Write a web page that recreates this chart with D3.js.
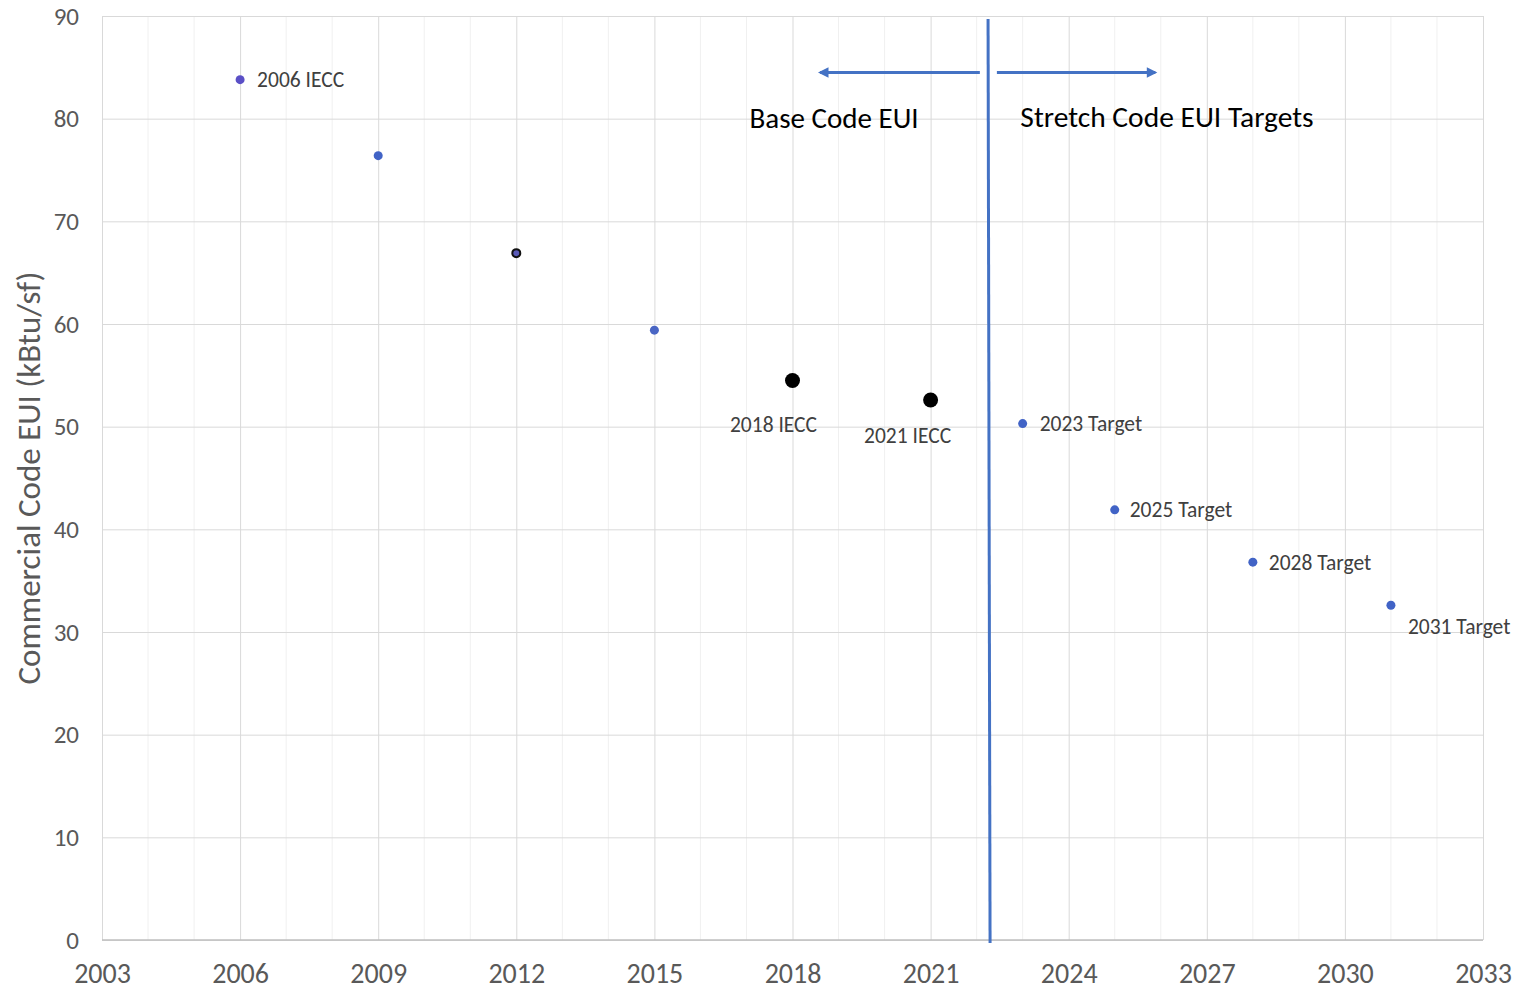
<!DOCTYPE html>
<html>
<head>
<meta charset="utf-8">
<script src="https://cdn.jsdelivr.net/npm/d3@7"></script>
<style>
  body { margin: 0; background: #fff; }
  svg text { font-family: Calibri, Carlito, "Open Sans", "Noto Sans", sans-serif; }
</style>
</head>
<body>
<div id="chart"></div>
<script>
// Data
const years = [2006, 2009, 2012, 2015, 2018, 2021, 2023, 2025, 2028, 2031];
const euiValues = [83.8, 76.4, 66.9, 59.4, 54.5, 52.6, 50.3, 41.9, 36.8, 32.6];
const pointLabels = ['2006 IECC', '', '', '', '2018 IECC', '2021 IECC', '2023 Target', '2025 Target', '2028 Target', '2031 Target'];
const xTicks = [2003, 2006, 2009, 2012, 2015, 2018, 2021, 2024, 2027, 2030, 2033];
const yTicks = [0, 10, 20, 30, 40, 50, 60, 70, 80, 90];
const dividerYear = 2022.27;
const arrowLeft = [2022.07, 2018.6];
const arrowRight = [2022.44, 2025.88];
const arrowLevel = 84.5;

// Marker styling per point
const markerStyle = [
    { r: 4.5, fill: '#5a4fc6', stroke: 'none' },
    { r: 4.5, fill: '#4163c6', stroke: 'none' },
    { r: 4, fill: '#5a5ab8', stroke: '#111', sw: 2 },
    { r: 4.5, fill: '#4a66c4', stroke: 'none' },
    { r: 7.5, fill: '#000', stroke: 'none' },
    { r: 7.5, fill: '#000', stroke: 'none' },
    { r: 4.5, fill: '#4163c6', stroke: 'none' },
    { r: 4.5, fill: '#4163c6', stroke: 'none' },
    { r: 4.5, fill: '#4163c6', stroke: 'none' },
    { r: 4.5, fill: '#4163c6', stroke: 'none' }
];
// Label placement: dx, dy relative to marker, anchor
const labelPlace = [
    { dx: 17, dy: 0, anchor: 'start' },
    null, null, null,
    { dx: -19, dy: 44, anchor: 'middle' },
    { dx: -23, dy: 36, anchor: 'middle' },
    { dx: 17, dy: 0, anchor: 'start' },
    { dx: 15, dy: 0, anchor: 'start' },
    { dx: 16, dy: 0, anchor: 'start' },
    { dx: 17, dy: 21, anchor: 'start' }
];

const width = 1517, height = 993;
const margin = { top: 16, right: 34, bottom: 53, left: 102 };

const svg = d3.select('#chart')
    .append('svg')
    .attr('width', width)
    .attr('height', height);

const x = d3.scaleLinear()
    .domain([2003, 2033])
    .range([margin.left, width - margin.right]);

const y = d3.scaleLinear()
    .domain([0, 90])
    .range([height - margin.bottom, margin.top]);

// Minor vertical gridlines every year
svg.append('g')
    .selectAll('line')
    .data(d3.range(2004, 2033).filter(d => (d - 2003) % 3 !== 0))
    .enter()
    .append('line')
    .attr('x1', d => x(d)).attr('x2', d => x(d))
    .attr('y1', y(90)).attr('y2', y(0))
    .attr('stroke', '#f0f0f0')
    .attr('stroke-width', 1);

// Major gridlines
svg.append('g')
    .attr('transform', `translate(0,${y(0)})`)
    .call(d3.axisBottom(x).tickValues(xTicks).tickSize(-(y(0) - y(90))).tickFormat(''))
    .call(g => g.select('.domain').remove())
    .call(g => g.selectAll('line').attr('stroke', '#d9d9d9'));

svg.append('g')
    .attr('transform', `translate(${x(2003)},0)`)
    .call(d3.axisLeft(y).tickValues(yTicks).tickSize(-(x(2033) - x(2003))).tickFormat(''))
    .call(g => g.select('.domain').remove())
    .call(g => g.selectAll('line').attr('stroke', '#d9d9d9'));

// Bottom axis line
svg.append('line')
    .attr('x1', x(2003)).attr('x2', x(2033))
    .attr('y1', y(0)).attr('y2', y(0))
    .attr('stroke', '#bfbfbf').attr('stroke-width', 1.5);

// Tick labels
svg.append('g')
    .attr('transform', `translate(0,${y(0)})`)
    .call(d3.axisBottom(x).tickValues(xTicks).tickSize(0).tickPadding(23).tickFormat(d3.format('d')))
    .call(g => g.select('.domain').remove())
    .call(g => g.selectAll('text')
        .attr('fill', '#595959')
        .style('font-size', '28px'));

svg.append('g')
    .attr('transform', `translate(${x(2003) - 23},0)`)
    .call(d3.axisLeft(y).tickValues(yTicks).tickSize(0).tickPadding(0))
    .call(g => g.select('.domain').remove())
    .call(g => g.selectAll('text')
        .attr('fill', '#595959')
        .style('font-size', '25px'));

// Y axis title
svg.append('text')
    .attr('transform', `translate(40,${(y(0) + y(90)) / 2}) rotate(-90)`)
    .attr('text-anchor', 'middle')
    .attr('fill', '#595959')
    .style('font-size', '33px')
    .text('Commercial Code EUI (kBtu/sf)');

// Divider line between base and stretch code
svg.append('line')
    .attr('x1', x(dividerYear) - 1).attr('x2', x(dividerYear) + 1)
    .attr('y1', y(90) + 3).attr('y2', y(0) + 3)
    .attr('stroke', '#4472c4').attr('stroke-width', 3);

// Arrow markers
const defs = svg.append('defs');
defs.append('marker')
    .attr('id', 'arrow')
    .attr('viewBox', '0 0 10 10')
    .attr('refX', 8).attr('refY', 5)
    .attr('markerWidth', 4).attr('markerHeight', 3.5)
    .attr('orient', 'auto')
    .append('path')
    .attr('d', 'M0,0L10,5L0,10Z')
    .attr('fill', '#4472c4');

[arrowLeft, arrowRight].forEach(a => {
    svg.append('line')
        .attr('x1', x(a[0])).attr('x2', x(a[1]))
        .attr('y1', y(arrowLevel)).attr('y2', y(arrowLevel))
        .attr('stroke', '#4472c4').attr('stroke-width', 3)
        .attr('marker-end', 'url(#arrow)');
});

svg.append('text')
    .attr('x', x(2020.74)).attr('y', y(80) + 9)
    .attr('text-anchor', 'end')
    .attr('fill', '#000')
    .style('font-size', '29px')
    .text('Base Code EUI');

svg.append('text')
    .attr('x', x(2022.95)).attr('y', y(80) + 8)
    .attr('text-anchor', 'start')
    .attr('fill', '#000')
    .style('font-size', '29.5px')
    .text('Stretch Code EUI Targets');

// Points
const pts = years.map((d, i) => ({ year: d, value: euiValues[i], label: pointLabels[i], m: markerStyle[i], p: labelPlace[i] }));

svg.append('g')
    .selectAll('circle')
    .data(pts)
    .enter()
    .append('circle')
    .attr('cx', d => x(d.year))
    .attr('cy', d => y(d.value))
    .attr('r', d => d.m.r)
    .attr('fill', d => d.m.fill)
    .attr('stroke', d => d.m.stroke)
    .attr('stroke-width', d => d.m.sw || 0);

svg.append('g')
    .selectAll('text')
    .data(pts.filter(d => d.label))
    .enter()
    .append('text')
    .attr('x', d => x(d.year) + d.p.dx)
    .attr('y', d => y(d.value) + d.p.dy)
    .attr('dy', '0.35em')
    .attr('text-anchor', d => d.p.anchor)
    .attr('fill', '#404040')
    .style('font-size', '21.5px')
    .text(d => d.label);
</script>
</body>
</html>
